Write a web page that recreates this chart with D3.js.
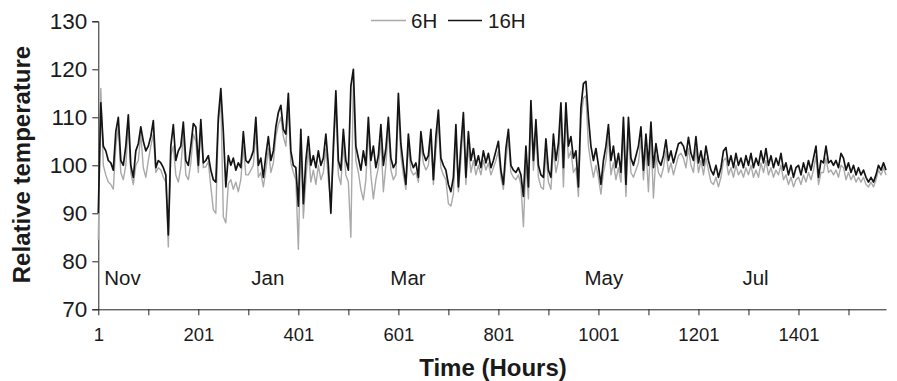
<!DOCTYPE html>
<html><head><meta charset="utf-8">
<script src="https://cdn.jsdelivr.net/npm/d3@7"></script>
<style>
html,body{margin:0;padding:0;background:#fff;}
svg{display:block;}
svg text{font-family:"Liberation Sans",Arial,Helvetica,sans-serif;}
</style></head>
<body><svg id="chart" width="897" height="381"></svg>
<script>
const hours = d3.range(1, 1577, 5);
const temp16H = [
90,113,104,103,101,100.5,99,107,110,101,100,104,110.5,100,97.5,103,104.5,108,105,103,
104,106,109.3,99.5,101,100.5,99.5,98,85.5,104,108.5,101,103,104,109,101,100,104,108.7,108,
100,109.5,100.5,101,102,99,97,96.5,110,116,107,95.5,102,100,101.5,99,100.5,99.5,107,101,
100.5,101.5,103,110,100,101.5,97.5,102,106,101,103,108,111,112.5,107.5,106.5,115,103,100,99.5,
91.5,107.5,92,101,106,100,102,99.5,103,100,101.5,106.5,100,90,104,115.5,101,99,107.5,101,
99,116.5,120,104,101.5,99,103,100,110,101,104,99.5,102,108.5,100,103.5,110,101.5,99.5,100.5,
115,104.5,100,96,106.5,101,99.5,100.5,97.5,107,102.5,101,102,107.5,97,106,111.5,101.5,100,99,
96,94.5,97.5,108.5,95.5,104,111,97.5,107,101,103.5,100,102,99.5,103,100.5,102.5,99.5,101,103,
105,99,96,103.5,107.5,100,99,98.5,99.5,98,93.5,104,95.5,113.5,101,109.5,100,98,97.5,105.5,
99,97.5,106.5,101,104.5,113,99.5,113,104,106,101.5,103,95.5,112,117,117.5,110,104,101,103.5,
100,96,101,104,108.5,101,104,99.5,102.5,98.5,110,96,110,101.5,100,102,104,108,99,106.5,
100,109,99.5,104.5,101,100,102,105.3,101,103,100.5,102.5,104.5,104.8,104,102,105.8,102.5,101,106,
100.5,103,100,104,101,99,98,100,97.5,99.5,103,103.7,100,102,99.5,102.5,100,101.5,99.5,102,
100,102.5,99.5,101.5,100,103,100.5,103.5,100,102,99.5,101.5,100,102.5,99,100.5,98,100,97.5,99.5,
100,98,100.5,98.5,101,99,101.5,104,97.5,101,100.5,104,100.5,101,100,101,99.5,102.5,101.5,99,
100.5,98.5,100,98,99.5,98,99,97.5,96.5,97.5,96.5,98,100,99,100.5,99
];
const temp6H = [
84.5,116,100,98,96.5,96,95,104,108,98.5,97,100,108.5,98.5,96,100,101,106.5,99.5,97.5,
101,104,106.5,98.5,99.5,99,97.5,96.5,83,102,104,98,96.5,99.5,106.5,98,97,100.5,106.5,105,
98.5,108,99.5,99.7,100.8,95.5,90.7,90,108.5,114,89.3,88,96.2,97,95,96.5,94.5,97,104,98,
98,99,100,107,97.5,98.5,95.5,99,103.5,98.5,100.5,106,108.5,110,106,104,112.5,100.5,98.5,97,
82.5,105,89,97,103.5,96.5,99,96,100,97,98.5,103.5,97,92,101.5,113,98,96,104.5,98,
96.5,85,117.5,101,98.5,95,92.8,97,107.5,98,93,97,99.5,105.5,94.5,100,107.5,99,97,98,
112,102,98,95,104,99,98,98.5,96.5,104.5,100.5,99,100,105.5,96,103,109,99.5,98,97,
92,91.5,94,106,94.5,101,109,96,104,98.5,101,98,100,98,101,99,100.5,98,99.5,101,
103,97.5,95,101,105.5,98.5,97.5,97,98,96,87.2,100.5,93,110.5,99,106.5,97.5,95.5,95,102.5,
96.5,95,103.5,98.5,101,110,95.5,110,101.5,103,98.5,99.5,93.5,109.5,114,114.5,104,100.4,97.5,100,
97.5,94,98.5,101,106,98,100.5,97,99.5,96.5,107,93.5,106.5,98.5,97.5,99,100.5,105.5,97,103.5,
94.5,106,93.2,102,98.5,97.5,99.5,103,98.5,100.5,98,100,102,102.5,101.5,99.5,103.5,100,98.5,103.5,
98.5,101,98,101.5,99,96.5,96,97.5,95.5,97.5,101,101.5,98,99.5,97.5,100,98,99,97.5,99.5,
98,100,97.5,99,97.5,100.5,98.5,101,98,99.5,97.5,99,98,100,97,98,96,97.5,95.5,97,
97.5,96,98,96.5,98.5,97,99,102,96,98.5,98.5,101.5,98.5,99,98,99,97.5,100,99.5,97,
98.5,97,98,96.5,97.5,96.5,97.5,96,95.5,96.5,95.5,97,99,98,99.5,98
];
const xTicks = [1,101,201,301,401,501,601,701,801,901,1001,1101,1201,1301,1401,1501];
const xTickLabels = ["1","","201","","401","","601","","801","","1001","","1201","","1401",""];
const yTicks = [70,80,90,100,110,120,130];
const months = ["Nov","Jan","Mar","May","Jul"];
const monthHour = [13,307,585,973,1289];
const seriesNames = ["6H","16H"];
const seriesColors = ["#a9a9a9","#141414"];

const svg = d3.select("#chart");
const x = d3.scaleLinear().domain([1,1576]).range([98.3,886]);
const y = d3.scaleLinear().domain([70,130]).range([309.3,21.3]);

// axes
const yAxis = d3.axisLeft(y).tickValues(yTicks).tickSize(6).tickPadding(5);
const gy = svg.append("g").attr("transform","translate(98.3,0)").call(yAxis)
  .attr("font-family",null).attr("font-size",22.5);
gy.selectAll("text").attr("fill","#1a1a1a");
gy.selectAll("line,path").attr("stroke","#222");

const xAxis = d3.axisBottom(x).tickValues(xTicks).tickFormat((d,i)=>xTickLabels[i]).tickSize(6).tickSizeOuter(0).tickPadding(13);
const gx = svg.append("g").attr("transform","translate(0,309.3)").call(xAxis)
  .attr("font-family",null).attr("font-size",18.5);
gx.selectAll("text").attr("fill","#1a1a1a");
gx.selectAll("line,path").attr("stroke","#222");

// lines
const n = Math.min(hours.length, temp6H.length, temp16H.length);
const idx = d3.range(n);
const mk = arr => d3.line().x(i=>x(hours[i])).y(i=>y(arr[i]));
svg.append("path").attr("d", mk(temp6H)(idx)).attr("fill","none").attr("stroke",seriesColors[0]).attr("stroke-width",1.4).attr("stroke-linejoin","round");
svg.append("path").attr("d", mk(temp16H)(idx)).attr("fill","none").attr("stroke",seriesColors[1]).attr("stroke-width",1.7).attr("stroke-linejoin","round");

// month labels
svg.selectAll("text.month").data(months).enter().append("text")
  .attr("class","month").attr("x",(d,i)=>x(monthHour[i])).attr("y",285)
  .attr("font-size",20.5).attr("fill","#1a1a1a").text(d=>d);

// legend
const lg = [{x1:371,x2:406,tx:411},{x1:448,x2:482,tx:488}];
lg.forEach((p,i)=>{
  svg.append("line").attr("x1",p.x1).attr("x2",p.x2).attr("y1",20.5).attr("y2",20.5).attr("stroke",seriesColors[i]).attr("stroke-width",1.5);
  svg.append("text").attr("x",p.tx).attr("y",28).attr("font-size",20.5).attr("fill","#1a1a1a").text(seriesNames[i]);
});

// axis titles
svg.append("text").attr("transform","translate(30,164.5) rotate(-90)").attr("text-anchor","middle")
  .attr("font-size",24).attr("font-weight","bold").attr("fill","#1a1a1a").text("Relative temperature");
svg.append("text").attr("x",493).attr("y",376).attr("text-anchor","middle")
  .attr("font-size",24).attr("font-weight","bold").attr("fill","#1a1a1a").text("Time (Hours)");
</script></body></html>
